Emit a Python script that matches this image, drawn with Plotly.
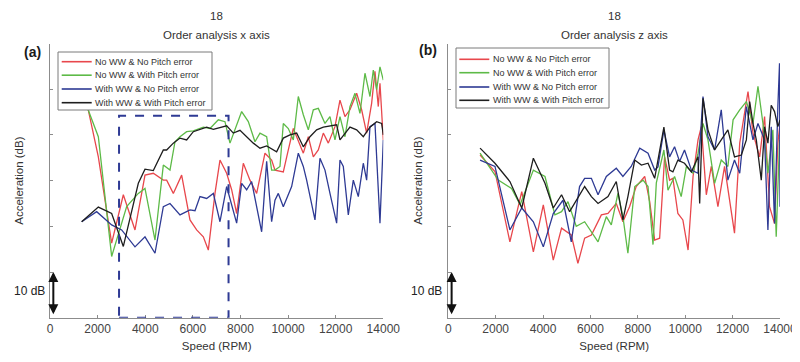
import plotly.graph_objects as go

# ---------------- data: panel (a) order analysis x axis ----------------
a_red_x = [1330, 1610, 2030, 2590, 3080, 3570, 3990, 4340, 4760, 4900, 5180, 5530, 5880, 6160, 6440, 6650, 6930, 7140, 7420, 7630, 7840, 8120, 8400, 8680, 9030, 9310, 9450, 9800, 10010, 10220, 10640, 10850, 11060, 11270, 11480, 11690, 11970, 12180, 12390, 12600, 12880, 13090, 13300, 13510, 13650, 13790, 13860, 14000]
a_red_y = [56, 45.4, 35.2, 16.3, 26.9, 19.2, 31.2, 31.6, 30.1, 30.1, 27.2, 31.2, 21.4, 19.2, 17.7, 14.8, 27.2, 34.5, 31.6, 28.0, 22.8, 33.8, 30.1, 27.2, 36.0, 34.5, 32.3, 31.9, 36.7, 41.4, 36.0, 39.6, 35.2, 36.7, 40.4, 38.2, 41.8, 47.6, 44.0, 45.5, 49.1, 45.5, 40.4, 46.9, 53.9, 46.2, 51.3, 38.9]

a_green_x = [1330, 1610, 2030, 2590, 3220, 3710, 3990, 4410, 4760, 5040, 5250, 5460, 5740, 6020, 6440, 6720, 7070, 7350, 7560, 8050, 8330, 8610, 8820, 9100, 9310, 9450, 9660, 9800, 10010, 10220, 10430, 10640, 10850, 11060, 11270, 11550, 11760, 11970, 12180, 12390, 12600, 12810, 13020, 13230, 13440, 13580, 13720, 13860, 14000]
a_green_y = [56, 45.4, 39.6, 13.4, 24.3, 27.2, 28.3, 17.0, 33.4, 32.3, 38.5, 39.6, 40.7, 40.9, 41.7, 41.4, 43.3, 42.9, 38.2, 45.1, 42.9, 38.5, 40.4, 39.6, 32.3, 32.3, 33.1, 42.5, 41.4, 38.9, 48.4, 44.4, 41.1, 45.5, 45.8, 42.5, 44.0, 38.9, 44.0, 39.6, 46.2, 49.1, 44.7, 53.5, 48.4, 54.2, 49.9, 54.9, 52.0]

a_blue_x = [1330, 1960, 2590, 3010, 3570, 3990, 4410, 4760, 5040, 5460, 5880, 6090, 6300, 6580, 6860, 7140, 7420, 7840, 8050, 8260, 8470, 8890, 9100, 9310, 9450, 9590, 9800, 10010, 10150, 10430, 10640, 10780, 10920, 11130, 11340, 11550, 11760, 12040, 12180, 12320, 12530, 12740, 12950, 13160, 13300, 13440, 13650, 13790, 13860, 14000]
a_blue_y = [21.0, 23.2, 20.3, 19.2, 15.5, 17.7, 14.1, 24.3, 25.0, 22.5, 23.6, 23.4, 26.5, 26.1, 27.2, 21.0, 28.7, 20.7, 29.4, 28.0, 29.8, 18.8, 34.2, 21.0, 25.7, 27.2, 24.3, 27.2, 28.7, 36.0, 33.1, 30.1, 26.5, 21.4, 34.9, 32.3, 27.2, 20.7, 34.5, 33.1, 22.5, 30.1, 26.5, 33.8, 30.1, 41.8, 42.5, 27.2, 20.7, 38.9]

a_black_x = [1330, 2030, 2590, 3080, 3710, 3990, 4340, 4760, 4900, 5180, 5460, 5740, 6020, 6580, 6860, 7420, 7700, 7980, 8540, 8820, 9100, 9520, 9800, 10080, 10360, 10640, 10920, 11200, 11480, 11760, 12040, 12180, 12600, 12880, 13160, 13440, 13720, 13930, 14000]
a_black_y = [21.0, 24.2, 22.8, 15.6, 29.4, 32.5, 32.2, 36.7, 36.7, 38.2, 39.3, 38.9, 40.7, 41.7, 41.2, 42.0, 40.4, 41.0, 38.2, 37.1, 37.6, 36.3, 39.3, 40.0, 40.4, 37.4, 39.6, 41.1, 41.7, 42.0, 42.2, 38.9, 41.7, 41.1, 39.6, 41.7, 42.9, 42.5, 40.0]

# ---------------- data: panel (b) order analysis z axis ----------------
b_red_x = [1340, 1970, 2600, 3100, 3590, 4010, 4430, 4780, 5190, 5470, 5755, 6040, 6460, 6740, 7090, 7370, 7650, 7930, 8290, 8500, 8710, 8920, 9130, 9340, 9480, 9690, 9900, 10120, 10330, 10540, 10680, 10890, 11100, 11380, 11660, 12080, 12300, 12650, 12860, 13140, 13350, 13560, 13770, 13910, 14000]
b_red_y = [35.6, 32.0, 16.6, 27.6, 14.4, 24.7, 12.6, 19.6, 18.1, 11.9, 17.4, 18.1, 22.5, 22.8, 25.0, 21.0, 24.3, 28.7, 30.9, 25.4, 17.0, 17.4, 35.2, 30.1, 30.5, 22.8, 21.4, 14.8, 30.9, 38.9, 41.8, 26.9, 33.1, 24.3, 33.1, 18.5, 38.2, 49.5, 40.4, 35.2, 44.0, 24.3, 20.6, 38.2, 42.5]

b_green_x = [1340, 2110, 2670, 3030, 3590, 4080, 4500, 4780, 5050, 5400, 5755, 6040, 6320, 6670, 6880, 7160, 7370, 7580, 7870, 8220, 8430, 8640, 8780, 9100, 9271, 9550, 9830, 10050, 10330, 10540, 10750, 10960, 11240, 11520, 11800, 12020, 12300, 12580, 12860, 13070, 13280, 13490, 13700, 13840, 13980]
b_green_y = [36.0, 30.1, 28.3, 24.7, 32.3, 30.9, 22.5, 23.2, 25.4, 20.0, 21.0, 18.8, 16.6, 22.1, 20.3, 27.2, 22.1, 14.1, 28.7, 30.1, 28.7, 16.0, 29.5, 36.7, 27.9, 30.9, 26.5, 33.1, 31.6, 36.0, 42.5, 38.9, 29.4, 34.5, 33.1, 43.3, 45.5, 47.3, 42.5, 50.6, 42.5, 31.6, 41.1, 17.7, 38.9]

b_blue_x = [1340, 1970, 2600, 3100, 3590, 4010, 4430, 4780, 4840, 5190, 5540, 5755, 6040, 6320, 6670, 7090, 7370, 7720, 8080, 8430, 8710, 8850, 9100, 9340, 9550, 9760, 9970, 10260, 10540, 10750, 10960, 11240, 11520, 11800, 12080, 12300, 12580, 12860, 13070, 13350, 13490, 13630, 13770, 13910, 13980, 14000]
b_blue_y = [34.5, 33.1, 19.2, 24.0, 21.0, 15.5, 22.8, 25.4, 25.7, 16.6, 28.7, 30.5, 30.5, 26.9, 30.9, 32.7, 30.9, 33.1, 37.1, 36.0, 32.3, 33.0, 41.1, 35.2, 37.4, 34.2, 36.7, 32.3, 31.6, 48.4, 39.6, 36.7, 45.5, 30.1, 34.5, 31.6, 46.2, 38.9, 42.5, 38.9, 19.2, 41.8, 20.6, 46.2, 55.7, 24.3]

b_black_x = [1340, 1970, 2600, 3100, 3590, 4080, 4430, 4780, 5120, 5400, 5755, 6040, 6320, 6740, 7090, 7370, 7580, 7870, 8150, 8430, 8710, 9100, 9340, 9480, 9690, 9970, 10260, 10540, 10610, 10750, 10960, 11240, 11520, 11800, 12080, 12370, 12580, 12720, 12860, 13000, 13210, 13350, 13490, 13630, 13770, 13910, 14000]
b_black_y = [37.1, 33.8, 29.8, 24.0, 34.9, 29.4, 24.0, 26.9, 23.2, 25.5, 28.7, 26.5, 25.0, 26.5, 29.8, 21.4, 26.5, 34.5, 33.4, 33.8, 30.5, 41.7, 32.3, 31.9, 34.5, 33.8, 31.9, 35.2, 25.0, 48.0, 41.1, 36.7, 38.9, 41.1, 35.2, 35.6, 38.9, 47.3, 42.5, 38.9, 30.1, 41.8, 38.2, 46.5, 45.1, 41.8, 43.3]

series_names = ["No WW & No Pitch error", "No WW & With Pitch error",
                "With WW & No Pitch error", "With WW & With Pitch error"]
series_colors = ["#E8474C", "#5DBA47", "#2E3A94", "#1E1E1E"]

x_ticks = [0, 2000, 4000, 6000, 8000, 10000, 12000, 14000]
y_ticks = [0, 10, 20, 30, 40, 50, 60]
zoom_box = [2900, 7500, 0, 44.2]  # x0, x1, y0, y1 of dashed region in (a)

# page is 800x362; the html body has an 8px margin, so the figure starts at (8, 8)
OFF = 8
W, H = 800 - OFF, 362 - OFF
def px(x): return (x - OFF) / W
def py(y): return 1 - (y - OFF) / H

FONT = "Liberation Sans, Arial, sans-serif"
TXT = "#333333"

fig = go.Figure()
panels = [
    ("x", "y", [(a_red_x, a_red_y), (a_green_x, a_green_y), (a_blue_x, a_blue_y), (a_black_x, a_black_y)]),
    ("x2", "y2", [(b_red_x, b_red_y), (b_green_x, b_green_y), (b_blue_x, b_blue_y), (b_black_x, b_black_y)]),
]
for xa, ya, data in panels:
    for (xs, ys), name, col in zip(data, series_names, series_colors):
        fig.add_trace(go.Scatter(x=xs, y=ys, mode="lines", name=name,
                                 line=dict(color=col, width=1.3),
                                 xaxis=xa, yaxis=ya, showlegend=False))

axis_common = dict(showgrid=False, zeroline=False, showline=True, linecolor="#8c8c8c",
                   linewidth=1, ticks="inside", ticklen=3, tickcolor="#8c8c8c",
                   mirror=False, automargin=False)
xcommon = dict(axis_common, range=[0, 14000], tickvals=x_ticks, tickformat="d",
               ticklabeloverflow="allow",
               tickfont=dict(family=FONT, size=12, color="#444444"),
               title=dict(text="Speed (RPM)", font=dict(family=FONT, size=11.5, color=TXT), standoff=6))
ycommon = dict(axis_common, range=[0, 60], tickvals=y_ticks, showticklabels=False,
               title=dict(text="Acceleration (dB)", font=dict(family=FONT, size=11.5, color=TXT), standoff=22))

y_dom = [py(317.7), py(43.5)]
fig.update_layout(
    width=W, height=H, margin=dict(l=0, r=0, t=0, b=0),
    paper_bgcolor="white", plot_bgcolor="white", showlegend=False,
    xaxis=dict(xcommon, domain=[px(50), px(383.3)], anchor="y"),
    yaxis=dict(ycommon, domain=y_dom, anchor="x"),
    xaxis2=dict(xcommon, domain=[px(448.3), px(780)], anchor="y2"),
    yaxis2=dict(ycommon, domain=y_dom, anchor="x2"),
)

# dashed zoom region in (a)
fig.add_shape(type="rect", xref="x", yref="y", x0=zoom_box[0], x1=zoom_box[1],
              y0=zoom_box[2], y1=zoom_box[3], line=dict(color="#2E3A94", width=2, dash="dash"),
              layer="above")

annotations = []
def label(cx, cy, text, size, color=TXT, xanchor="center"):
    annotations.append(dict(x=px(cx), y=py(cy), xref="paper", yref="paper", text=text,
                            showarrow=False, xanchor=xanchor, yanchor="middle",
                            font=dict(family=FONT, size=size, color=color)))

# titles
for cx, t in [(216.7, "Order analysis x axis"), (614, "Order analysis z axis")]:
    label(cx, 16, "18", 11.5)
    label(cx, 35, t, 11.5)
# panel labels
label(32, 52, "<b>(a)</b>", 14, "#1a1a1a")
label(428, 50, "<b>(b)</b>", 14, "#1a1a1a")
# 10 dB scale arrows
for xr, yr, tx in [("x", "y", 29), ("x2", "y2", 426)]:
    annotations.append(dict(x=140, y=10, ax=140, ay=0.4, xref=xr, yref=yr, axref=xr, ayref=yr,
                            text="", showarrow=True, arrowhead=2, arrowside="end+start",
                            arrowsize=1, arrowwidth=2, arrowcolor="#111111", standoff=0, startstandoff=0))
    label(tx, 291, "10 dB", 12, "#222222")

# manual legends (box, line samples, labels)
legends = [
    dict(box=(58, 52, 212, 110), lx=(61.7, 91.7), tx=93.3, rows=[61.7, 75.2, 89.0, 102.7]),
    dict(box=(456, 48, 609, 108), lx=(459.3, 489.3), tx=490.7, rows=[59.3, 72.7, 87.0, 100.3]),
]
for lg in legends:
    x0, y0, x1, y1 = lg["box"]
    fig.add_shape(type="rect", xref="paper", yref="paper", x0=px(x0), x1=px(x1), y0=py(y1), y1=py(y0),
                  fillcolor="white", line=dict(color="#7a7a7a", width=1), layer="above")
    for ry, name, col in zip(lg["rows"], series_names, series_colors):
        fig.add_shape(type="line", xref="paper", yref="paper", x0=px(lg["lx"][0]), x1=px(lg["lx"][1]),
                      y0=py(ry), y1=py(ry), line=dict(color=col, width=1.6), layer="above")
        label(lg["tx"], ry, name, 9, "#333333", xanchor="left")

fig.update_layout(annotations=annotations)
fig.write_html("out.html")
